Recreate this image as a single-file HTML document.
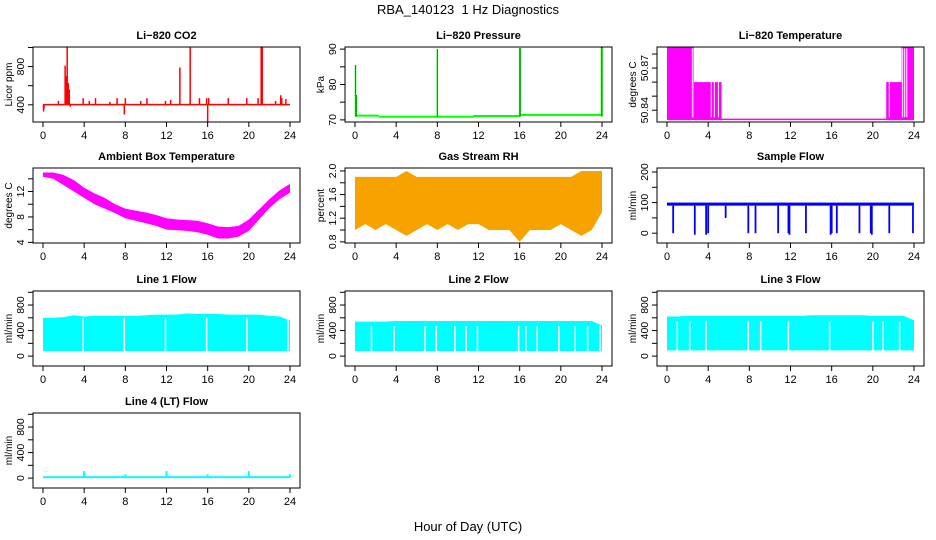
<!DOCTYPE html>
<html><head><meta charset="utf-8"><style>
html,body{margin:0;padding:0;background:#fff}
svg{display:block;font-family:"Liberation Sans",sans-serif}
</style></head><body>
<svg id="c" width="936" height="540" viewBox="0 0 936 540">
<text x="468" y="14" text-anchor="middle" font-size="13">RBA_140123&#160; 1 Hz Diagnostics</text>
<text x="468" y="531" text-anchor="middle" font-size="13">Hour of Day (UTC)</text>
</svg>
<script>
// ---- data ----
const hours = [0,1,2,3,4,5,6,7,8,9,10,11,12,13,14,15,16,17,18,19,20,21,22,23,24];
const xTicks = [0,4,8,12,16,20,24];
// CO2
const co2Base = 402;
const co2SpikeHours = [0.05,0.1,1.5,2.15,2.25,2.35,2.45,2.55,2.65,3.9,4.5,5.1,6.5,7.2,7.9,8.0,9.5,10.1,11.9,12.4,13.3,14.3,15.2,15.9,16.0,16.1,18.0,19.8,20.9,21.2,21.3,22.6,23.1,23.2,23.6];
const co2SpikeVals  = [330,360,440,810,700,1000,630,560,380,470,440,470,430,470,300,470,440,470,440,450,790,1000,470,470,200,470,470,470,470,1000,1000,440,500,470,460];
// Pressure
const presStepHours = [0,2.3,11.5,16,24];
const presStepVals = [71.2,70.9,71.1,71.4];
const presSpikeHours = [0.05,0.12,8.0,16.0,16.05,23.95,24.0];
const presSpikeVals = [85.5,77,90,90.3,90.3,90.5,90.5];
// Li-820 temperature segments
const ltStart = [0,2.35,2.6,5.3,21.3,22.8];
const ltEnd   = [2.35,2.6,5.3,21.3,22.8,24];
const ltLevel = [50.885,50.885,50.86,50.8335,50.86,50.885];
const ltGaps = [2.5,4.3,4.6,5.0,21.6,22.9,23.1,23.3];
// Ambient temperature envelope
const ambHi = [15.0,15.0,14.6,13.8,12.6,11.7,11.0,10.0,9.3,9.0,8.7,8.3,7.8,7.6,7.5,7.4,7.0,6.5,6.4,6.6,7.6,9.2,10.8,12.2,13.2];
const ambLo = [14.3,14.0,13.0,12.0,11.0,10.0,9.3,8.6,7.8,7.4,7.0,6.6,6.0,5.9,5.8,5.6,5.2,4.6,4.6,4.9,5.8,7.6,9.4,10.8,11.8];
// RH envelope
const rhHi = [1.9,1.9,1.9,1.9,1.9,2.0,1.9,1.9,1.9,1.9,1.9,1.9,1.9,1.9,1.9,1.9,1.9,1.9,1.9,1.9,1.9,1.9,2.0,2.0,2.0];
const rhLo = [1.0,1.1,1.0,1.1,1.0,0.9,1.0,1.1,1.0,1.1,1.0,1.1,1.1,1.0,1.0,1.0,0.8,1.0,1.0,1.0,1.1,1.0,0.9,1.0,1.3];
// Sample flow
const sfHi = 100, sfLo = 90;
const sfDipHours = [0.6,2.7,3.8,4.0,5.7,7.9,8.6,10.8,11.8,11.9,13.5,15.9,16.0,16.5,18.7,19.8,19.9,21.6,23.9];
const sfDipVals  = [0,-5,-5,0,50,0,0,0,0,-5,0,-5,0,0,0,0,-5,0,0];
// Line flows
const l1Hi = [600,600,610,640,620,630,630,630,630,630,640,650,650,650,670,660,660,660,650,650,650,650,630,620,560];
const l1Lo = 80;
const l1Gaps = [3.9,7.9,11.9,15.9,19.8,23.8];
const l2Hi = [540,540,540,540,550,550,550,550,550,550,550,550,550,550,550,550,550,550,550,550,550,550,550,550,480];
const l2Lo = 80;
const l2Gaps = [1.6,3.8,6.8,7.9,9.7,10.8,11.9,15.9,16.6,17.7,19.8,21.4,22.6,23.8];
const l3Hi = [620,620,630,630,630,630,630,630,630,630,630,630,630,630,640,640,640,640,640,640,630,630,630,630,560];
const l3Lo = 90;
const l3Gaps = [1.0,2.2,3.8,7.9,9.1,11.8,15.8,20.0,21.0,22.6];
const l4Base = 15;
const l4SpikeHours = [4,8,12,16,20,24];
const l4SpikeVals = [110,60,110,60,110,60];

const svg = document.getElementById('c');
const NS = 'http://www.w3.org/2000/svg';
function mk(tag, attrs, parent){const e=document.createElementNS(NS,tag);for(const k in attrs)e.setAttribute(k,attrs[k]);(parent||svg).appendChild(e);return e;}

const colX0 = [43,355,667];
const rowTop = [47,168,291,413];
const HPX = 247/24, H = 75;

function panel(col,row,title,ylab,ymin,ymax,yticks,ylabels,name,dec){
  const x0 = colX0[col], left = x0-10, right = x0+257, top = rowTop[row], bot = top+H;
  const g = mk('g',{});
  
  
  const X = h => x0 + h*HPX;
  const Y = v => bot - (v-ymin)/(ymax-ymin)*H;
  const cid = 'clip'+name;
  const cp = mk('clipPath',{id:cid},g); mk('rect',{x:left,y:top,width:right-left,height:H},cp);
  const plot = mk('g',{'clip-path':'url(#'+cid+')'},g);
  
  
  const t = mk('text',{x:(left+right)/2,y:top-8,'text-anchor':'middle','font-size':11,'font-weight':'bold'},g);
  t.textContent = title;
  
  
  mk('rect',{x:left,y:top,width:right-left,height:H,fill:'none',stroke:'#000','stroke-width':1},g);
  xTicks.forEach(h=>{
    mk('line',{x1:X(h),x2:X(h),y1:bot,y2:bot+5,stroke:'#000'},g);
    const tx = mk('text',{x:X(h),y:bot+17,'text-anchor':'middle','font-size':11},g);
    tx.textContent = h;
    
    
  });
  yticks.forEach(v=>{
    mk('line',{x1:left,x2:left-5,y1:Y(v),y2:Y(v),stroke:'#000'},g);
  });
  ylabels.forEach(v=>{
    const ty = mk('text',{x:0,y:0,'text-anchor':'middle','font-size':10.5,transform:`translate(${left-9},${Y(v)}) rotate(-90)`},g);
    ty.textContent = dec ? v.toFixed(dec) : v;
    
    
  });
  const yl = mk('text',{x:0,y:0,'text-anchor':'middle','font-size':10,transform:`translate(${left-21},${top+H/2}) rotate(-90)`},g);
  yl.textContent = ylab;
  
  
  return {X,Y,plot};
}
function envelope(p,hi,lo,fill){
  let d='';
  hours.forEach((h,i)=>{d+=(i?'L':'M')+p.X(h)+','+p.Y(hi[i]);});
  for(let i=hours.length-1;i>=0;i--) d+='L'+p.X(hours[i])+','+p.Y(lo[i]);
  return mk('path',{d:d+'Z',fill:fill},p.plot);
}
function vline(p,h,v1,v2,color,w){return mk('line',{x1:p.X(h),x2:p.X(h),y1:p.Y(v1),y2:p.Y(v2),stroke:color,'stroke-width':w||1.2},p.plot);}

// CO2
let p = panel(0,0,'Li\u2212820 CO2','Licor ppm',220,1005,[400,600,800,1000],[400,800],'co2');
mk('rect',{x:p.X(0),y:p.Y(co2Base+8),width:p.X(24)-p.X(0),height:p.Y(co2Base-8)-p.Y(co2Base+8),fill:'#ff0000'},p.plot);
co2SpikeHours.forEach((h,i)=>{vline(p,h,co2Base,co2SpikeVals[i],'#ff0000',1.5);});

// Pressure
p = panel(1,0,'Li\u2212820 Pressure','kPa',69.4,90.6,[70,75,80,85,90],[70,80,90],'pressure');
presStepVals.forEach((v,i)=>{mk('rect',{x:p.X(presStepHours[i]),y:p.Y(v)-1,width:p.X(presStepHours[i+1])-p.X(presStepHours[i]),height:2,fill:'#00ff00'},p.plot);});
presSpikeHours.forEach((h,i)=>{vline(p,h,71,presSpikeVals[i],'#00ff00',1.5);const l=vline(p,h,71,presSpikeVals[i],'#000',0.8);l.setAttribute('stroke-dasharray','1,1');});

// Li temp
p = panel(2,0,'Li\u2212820 Temperature','degrees C',50.8316,50.885,[50.84,50.85,50.86,50.87,50.88],[50.84,50.87],'li-temp');
ltStart.forEach((s,i)=>{mk('rect',{x:p.X(s),y:p.Y(ltLevel[i]),width:p.X(ltEnd[i])-p.X(s),height:p.Y(50.8335)-p.Y(ltLevel[i]),fill:'#ff00ff'},p.plot);});
mk('line',{x1:p.X(0),x2:p.X(24),y1:p.Y(50.8335),y2:p.Y(50.8335),stroke:'#ff00ff','stroke-width':1.5},p.plot);
ltGaps.forEach(h=>{vline(p,h,50.835,50.884,'#fff',1);});

// Ambient
p = panel(0,1,'Ambient Box Temperature','degrees C',3.9,15.7,[4,6,8,10,12,14],[4,8,12],'ambient-temp');
envelope(p,ambHi,ambLo,'#ff00ff');

// RH
p = panel(1,1,'Gas Stream RH','percent',0.78,2.05,[0.8,1.0,1.2,1.4,1.6,1.8,2.0],[0.8,1.2,1.6,2.0],'gas-rh',1);
envelope(p,rhHi,rhLo,'#f8a200');

// Sample flow
p = panel(2,1,'Sample Flow','ml/min',-32,213,[0,50,100,150,200],[0,100,200],'sample-flow');
mk('rect',{x:p.X(0),y:p.Y(sfHi),width:p.X(24)-p.X(0),height:p.Y(sfLo)-p.Y(sfHi),fill:'#0000ff'},p.plot);
sfDipHours.forEach((h,i)=>{vline(p,h,sfLo,sfDipVals[i],'#0000ff',1.8);});

// Line flows
const flowTicks=[0,200,400,600,800,1000], flowLabels=[0,400,800];
function linePanel(col,row,title,name,hi,lo,gaps,gapTop){
  const q = panel(col,row,title,'ml/min',-155,1020,flowTicks,flowLabels,name);
  envelope(q,hi,hours.map(()=>lo),'#00ffff');
  gaps.forEach(h=>{vline(q,h,lo,gapTop,'#fff',1.5);});
  return q;
}
linePanel(0,2,'Line 1 Flow','line1-flow',l1Hi,l1Lo,l1Gaps,600);
linePanel(1,2,'Line 2 Flow','line2-flow',l2Hi,l2Lo,l2Gaps,470);
linePanel(2,2,'Line 3 Flow','line3-flow',l3Hi,l3Lo,l3Gaps,540);
p = panel(0,3,'Line 4 (LT) Flow','ml/min',-155,1020,flowTicks,flowLabels,'line4-flow');
mk('rect',{x:p.X(0),y:p.Y(l4Base+15),width:p.X(24)-p.X(0),height:p.Y(0)-p.Y(l4Base+15),fill:'#00ffff'},p.plot);
l4SpikeHours.forEach((h,i)=>{vline(p,h,l4Base,l4SpikeVals[i],'#00ffff',2);});
</script>
</body></html>
